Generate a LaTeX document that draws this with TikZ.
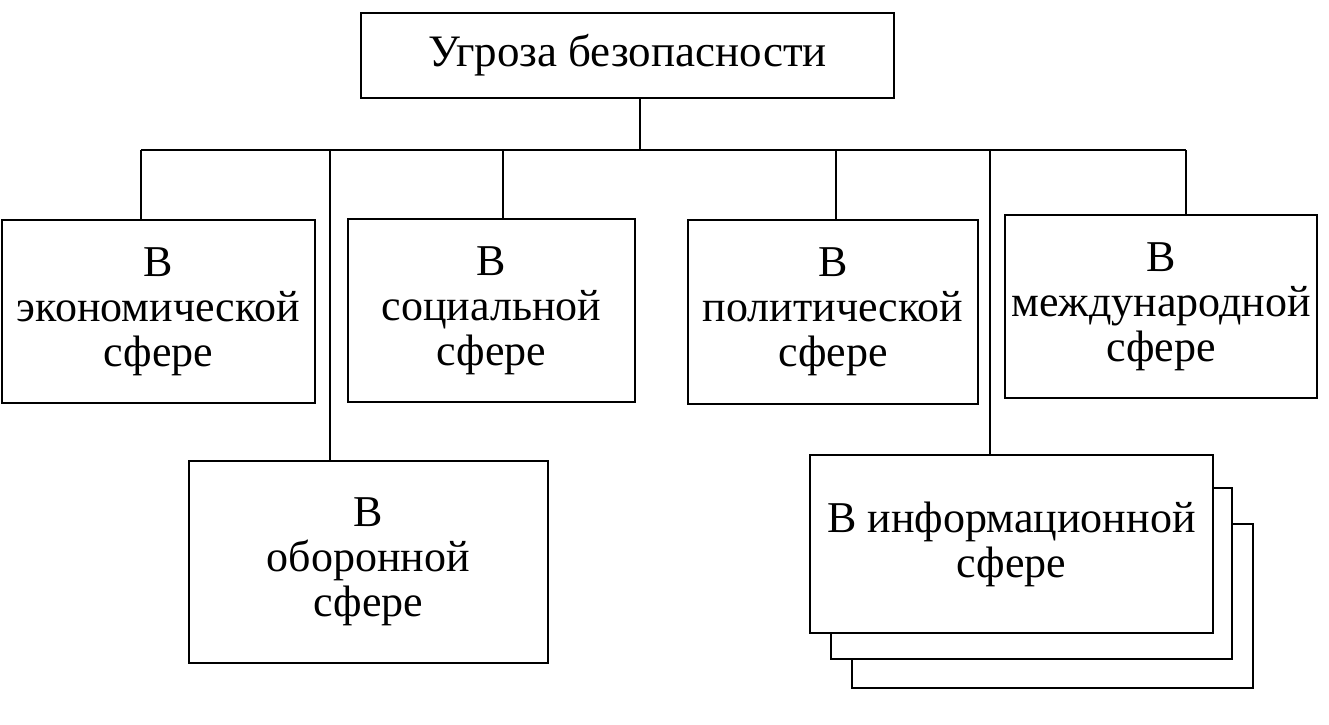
\documentclass[tikz,border=0pt]{standalone}
\usepackage{fontspec}
\setmainfont{Liberation Serif}
\begin{document}
\begin{tikzpicture}[x=1pt,y=-1pt,
  box/.style={draw,line width=1.8pt,fill=white,inner sep=0pt,align=center,
    font=\fontsize{44}{45}\selectfont},
  link/.style={line width=1.8pt}]
\useasboundingbox (0,0) rectangle (1329,724);
% top
\node[box,minimum width=533pt,minimum height=85pt,font=\fontsize{45}{50}\selectfont] (top) at (627.5,55.5) {Угроза безопасности};
% row
\node[box,minimum width=313pt,minimum height=183pt] (econ) at (158.5,311.5) {В\\экономической\\сфере};
\node[box,minimum width=287pt,minimum height=183pt] (soc) at (491.5,310.5) {В\\социальной\\сфере};
\node[box,minimum width=290pt,minimum height=184pt] (pol) at (833,312) {В\\политической\\сфере};
\node[box,minimum width=312pt,minimum height=183pt] (intl) at (1161,306.5) {В\\международной\\сфере};
\node[box,minimum width=359pt,minimum height=202pt] (def) at (368.5,562) {В\\оборонной\\сфере};
% stacked
\node[box,minimum width=401pt,minimum height=164pt] (inf3) at (1052.5,606) {};
\node[box,minimum width=401pt,minimum height=171pt] (inf2) at (1031.5,573.5) {};
\node[box,minimum width=403pt,minimum height=178pt] (inf) at (1011.5,544) {В информационной\\сфере};
% connectors
\coordinate (hub) at (640,150);
\coordinate (bl) at (141,150);
\coordinate (br) at (1186,150);
\coordinate (j2) at (503,150);
\coordinate (j3) at (836,150);
\coordinate (jd) at (330,150);
\coordinate (ji) at (990,150);
\draw[link] (hub |- top.south) -- (hub);
\draw[link] (bl) -- (br);
\draw[link] (bl) -- (bl |- econ.north);
\draw[link] (j2) -- (j2 |- soc.north);
\draw[link] (j3) -- (j3 |- pol.north);
\draw[link] (br) -- (br |- intl.north);
\draw[link] (jd) -- (jd |- def.north);
\draw[link] (ji) -- (ji |- inf.north);
\end{tikzpicture}
\end{document}
